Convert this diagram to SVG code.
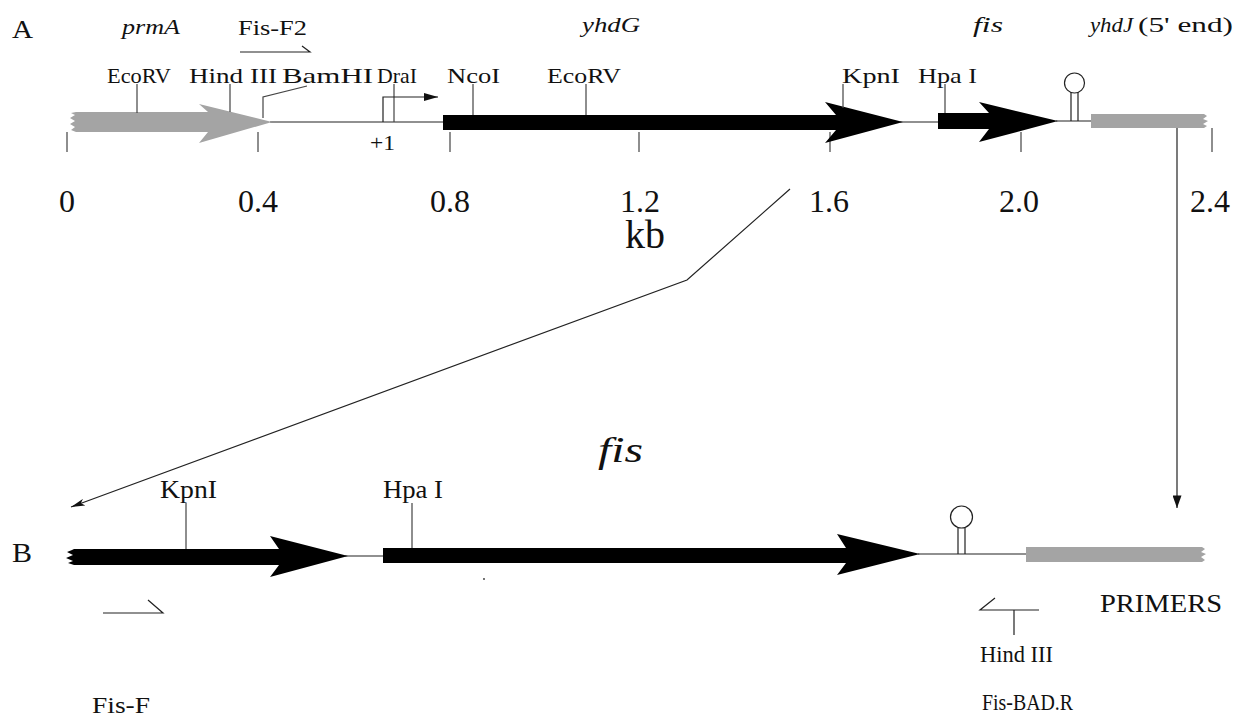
<svg xmlns="http://www.w3.org/2000/svg" width="1240" height="719" viewBox="0 0 1240 719">
<style>
.t{font-family:"Liberation Serif","Times New Roman",serif;fill:#111}
.i{font-style:italic}
.s20{font-size:22px}
.s26{font-size:26px}
.num{font-size:32px;text-anchor:middle}
.ln{stroke:#222;stroke-width:1.2;fill:none}
.tk{stroke:#444;stroke-width:1.2;fill:none}
.blk{fill:#000}
.gry{fill:#a4a4a4}
</style>
<defs>
<marker id="headV" viewBox="0 0 14 10" refX="14" refY="5" markerWidth="15" markerHeight="9" orient="auto" markerUnits="userSpaceOnUse"><path d="M0,0 L14,5 L0,10 Z" fill="#111"/></marker>
<marker id="headN" viewBox="0 0 16 8" refX="16" refY="4" markerWidth="16" markerHeight="7" orient="auto" markerUnits="userSpaceOnUse"><path d="M0,0 L16,4 L0,8 L4,4 Z" fill="#111"/></marker>
<marker id="headP" viewBox="0 0 14 8" refX="14" refY="4" markerWidth="14" markerHeight="8" orient="auto" markerUnits="userSpaceOnUse"><path d="M0,0 L14,4 L0,8 Z" fill="#111"/></marker>
</defs>
<rect width="1240" height="719" fill="#fff"/>

<g id="panelA-label"><text class="t" x="12" y="38" font-size="25" textLength="21" lengthAdjust="spacingAndGlyphs">A</text></g>

<g id="scale">
<path class="tk" d="M67,132V152 M258,132V152 M450,132V152 M639,132V152 M830,132V152 M1021,132V152 M1212,128V152"/>
<text class="t num" x="67" y="212">0</text>
<text class="t num" x="258" y="212">0.4</text>
<text class="t num" x="450" y="212">0.8</text>
<text class="t num" x="640" y="212">1.2</text>
<text class="t num" x="829" y="212">1.6</text>
<text class="t num" x="1019" y="212">2.0</text>
<text class="t num" x="1210" y="212">2.4</text>
<text class="t" x="625" y="248" font-size="39" textLength="40" lengthAdjust="spacingAndGlyphs">kb</text>
</g>

<g id="backboneA"><path class="ln" d="M270,122H443 M900,122H938 M1056,121H1091"/></g>

<g id="prmA">
<path class="gry" d="M76,112 L208,112 L199,104 L272,122 L199,143 L208,132 L76,132 L71,130 L75,127 L70,124 L75,121 L70,118 L75,115 L71,113 Z"/>
<text class="t i s20" x="122" y="34" textLength="58" lengthAdjust="spacingAndGlyphs">prmA</text>
</g>

<g id="yhdG">
<path class="blk" d="M443,115 L836,115 L825,102 L903,122 L825,143 L836,130 L443,130 Z"/>
<text class="t i s20" x="582" y="32" textLength="58" lengthAdjust="spacingAndGlyphs">yhdG</text>
</g>

<g id="fisA">
<path class="blk" d="M938,113 L989,113 L979,102 L1058,121 L979,142 L989,129 L938,129 Z"/>
<text class="t i s20" x="973" y="32" textLength="30" lengthAdjust="spacingAndGlyphs">fis</text>
</g>

<g id="terminatorA">
<path class="ln" d="M1071,121V92.5 M1078,121V92.5"/>
<circle class="ln" cx="1074.5" cy="83" r="10"/>
</g>

<g id="yhdJ">
<path class="gry" d="M1091,114 L1204,114 L1207,116 L1203,119 L1208,121 L1203,124 L1207,126 L1204,128 L1091,128 Z"/>
<text class="t s20" x="1090" y="32"><tspan class="i" textLength="43" lengthAdjust="spacingAndGlyphs">yhdJ</tspan><tspan x="1138" textLength="95" lengthAdjust="spacingAndGlyphs">(5' end)</tspan></text>
</g>

<g id="sitesA">
<path class="tk" d="M137,84V113 M230,84V112 M263,118V97L307,86 M394,84V122 M473,84V115 M586,84V115 M843,84V108 M945,84V113"/>
<text class="t s20" x="107" y="83" textLength="64" lengthAdjust="spacingAndGlyphs">EcoRV</text>
<text class="t s20" x="189" y="83" textLength="88" lengthAdjust="spacingAndGlyphs">Hind III</text>
<text class="t s20" x="282" y="83" textLength="91" lengthAdjust="spacingAndGlyphs">BamHI</text>
<text class="t s20" x="377" y="83" textLength="40" lengthAdjust="spacingAndGlyphs">DraI</text>
<text class="t s20" x="447" y="83" textLength="53" lengthAdjust="spacingAndGlyphs">NcoI</text>
<text class="t s20" x="547" y="83" textLength="74" lengthAdjust="spacingAndGlyphs">EcoRV</text>
<text class="t s20" x="842" y="83" textLength="58" lengthAdjust="spacingAndGlyphs">KpnI</text>
<text class="t s20" x="918" y="83" textLength="59" lengthAdjust="spacingAndGlyphs">Hpa I</text>
</g>

<g id="promoter">
<path class="ln" d="M383,122V97H438" marker-end="url(#headP)"/>
<text class="t s20" x="370" y="150" textLength="25" lengthAdjust="spacingAndGlyphs">+1</text>
</g>

<g id="primerF2">
<path class="ln" d="M240,52H310L302,46"/>
<text class="t s20" x="238" y="35" textLength="69" lengthAdjust="spacingAndGlyphs">Fis-F2</text>
</g>

<g id="connectors">
<polyline class="ln" points="790,189 687,280 71,507" marker-end="url(#headN)"/>
<line class="ln" x1="1177" y1="128" x2="1177" y2="508" marker-end="url(#headV)"/>
</g>

<g id="panelB-label"><text class="t" x="12" y="562" font-size="28" textLength="20" lengthAdjust="spacingAndGlyphs">B</text></g>

<g id="backboneB"><path class="ln" d="M345,556H383 M918,554H1026"/></g>

<g id="fisB1">
<path class="blk" d="M74,549 L279,549 L270,536 L348,556 L270,577 L279,565 L74,565 L68,563 L73,561 L66,558 L73,555 L67,552 L72,550 Z"/>
</g>

<g id="fisB2">
<path class="blk" d="M383,548 L846,548 L837,534 L920,554 L837,575 L846,563 L383,563 Z"/>
<text class="t i" x="598" y="462" font-size="36" textLength="45" lengthAdjust="spacingAndGlyphs">fis</text>
</g>

<g id="terminatorB">
<path class="ln" d="M958,554V527.5 M965,554V527.5"/>
<circle class="ln" cx="961.5" cy="517" r="11"/>
</g>

<g id="grayB">
<path class="gry" d="M1026,547 L1202,547 L1205,549 L1201,552 L1206,554 L1201,557 L1205,560 L1202,562 L1026,562 Z"/>
<text class="t" x="1100" y="612" font-size="25" textLength="122" lengthAdjust="spacingAndGlyphs">PRIMERS</text>
</g>

<g id="sitesB">
<path class="tk" d="M186,503V549 M412,503V548"/>
<text class="t s26" x="160" y="498" textLength="57" lengthAdjust="spacingAndGlyphs">KpnI</text>
<text class="t s26" x="383" y="498" textLength="60" lengthAdjust="spacingAndGlyphs">Hpa I</text>
<circle cx="484" cy="579" r="0.9" fill="#333"/>
</g>

<g id="primerF">
<path class="ln" d="M103,613H163L148,600"/>
<text class="t" x="92" y="713" font-size="24" textLength="58" lengthAdjust="spacingAndGlyphs">Fis-F</text>
</g>

<g id="primerR">
<path class="ln" d="M995,598L980,610H1039 M1014,610V635"/>
<text class="t" x="980" y="662" font-size="24" textLength="73" lengthAdjust="spacingAndGlyphs">Hind III</text>
<text class="t" x="982" y="710" font-size="24" textLength="91" lengthAdjust="spacingAndGlyphs">Fis-BAD.R</text>
</g>
</svg>
